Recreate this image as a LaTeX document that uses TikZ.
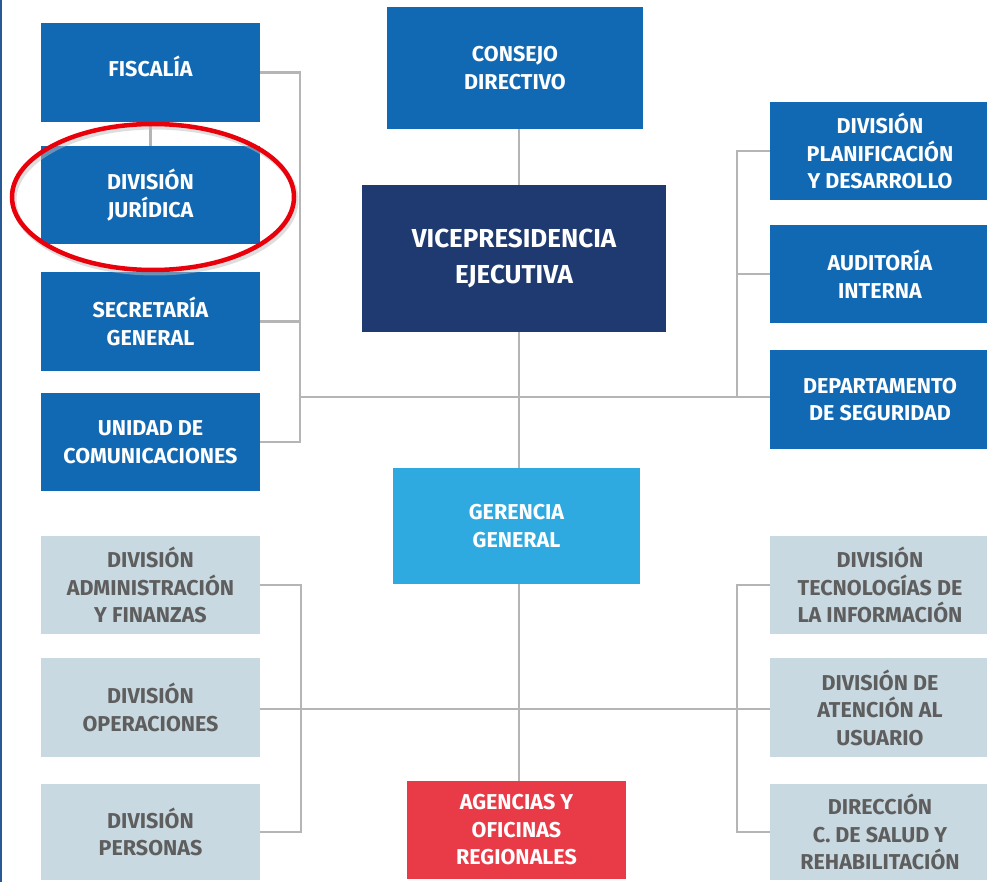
\documentclass[tikz,border=0pt]{standalone}
\usepackage{fontspec}
\setmainfont{Fira Sans}
\definecolor{bluebox}{HTML}{1168B3}
\definecolor{navybox}{HTML}{1F3A70}
\definecolor{skybox}{HTML}{2EAAE1}
\definecolor{redbox}{HTML}{E83A47}
\definecolor{greybox}{HTML}{C9D9E1}
\definecolor{greytext}{HTML}{5E5E5E}
\definecolor{linegrey}{HTML}{B5B5B5}
\definecolor{edgeblue}{HTML}{2A5A96}
\definecolor{ringred}{HTML}{E8000B}
\begin{document}
\begin{tikzpicture}[x=1pt,y=-1pt,
  basebox/.style={rectangle, inner sep=0pt, align=center, font=\bfseries\fontsize{21.5}{27.5}\selectfont},
  bluenode/.style={basebox, fill=bluebox, text=white},
  greynode/.style={basebox, fill=greybox, text=greytext},
  conn/.style={draw=linegrey, line width=2.6pt}]
\useasboundingbox (0,0) rectangle (987,882);
\fill[white] (0,0) rectangle (987,882);
% left border
\fill[edgeblue] (0,0) rectangle (2,882);
% left blue column
\node[bluenode, minimum width=219pt, minimum height=99pt] (fis) at (150.5,72.5) {\raisebox{12pt}{FISCALÍA}};
\node[bluenode, minimum width=219pt, minimum height=98pt] (jur) at (150.5,195) {DIVISIÓN\\JURÍDICA};
\node[bluenode, minimum width=219pt, minimum height=99pt] (sec) at (150.5,321.5) {SECRETARÍA\\GENERAL};
\node[bluenode, minimum width=219pt, minimum height=98pt] (uni) at (150.5,442) {UNIDAD DE\\COMUNICACIONES};
% centre column
\node[bluenode, minimum width=256pt, minimum height=122pt] (con) at (515,68) {CONSEJO\\DIRECTIVO};
\node[basebox, fill=navybox, text=white, font=\bfseries\fontsize{26}{36}\selectfont, minimum width=304pt, minimum height=147pt] (vic) at (514,258.5) {VICEPRESIDENCIA\\EJECUTIVA};
\node[basebox, fill=skybox, text=white, minimum width=247pt, minimum height=116pt] (ger) at (516.5,526) {GERENCIA\\GENERAL};
\node[basebox, fill=redbox, text=white, minimum width=219pt, minimum height=98pt] (age) at (516.5,830) {AGENCIAS Y\\OFICINAS\\REGIONALES};
% right blue column
\node[bluenode, minimum width=220pt, minimum height=98pt] (pla) at (880,151) {DIVISIÓN\\PLANIFICACIÓN\\Y DESARROLLO};
\node[bluenode, minimum width=220pt, minimum height=98pt] (aud) at (880,274) {AUDITORÍA\\INTERNA};
\node[bluenode, minimum width=220pt, minimum height=99pt] (dep) at (880,399.5) {DEPARTAMENTO\\DE SEGURIDAD};
% grey left column
\node[greynode, minimum width=219pt, minimum height=98pt] (adm) at (150.5,585) {DIVISIÓN\\ADMINISTRACIÓN\\Y FINANZAS};
\node[greynode, minimum width=219pt, minimum height=99pt] (ope) at (150.5,707.5) {DIVISIÓN\\OPERACIONES};
\node[greynode, minimum width=219pt, minimum height=96pt] (per) at (150.5,832) {DIVISIÓN\\PERSONAS};
% grey right column
\node[greynode, minimum width=220pt, minimum height=98pt] (tec) at (880,585) {DIVISIÓN\\TECNOLOGÍAS DE\\LA INFORMACIÓN};
\node[greynode, minimum width=220pt, minimum height=99pt] (ate) at (880,707.5) {DIVISIÓN DE\\ATENCIÓN AL\\USUARIO};
\node[greynode, minimum width=220pt, minimum height=96pt] (dir) at (880,832) {DIRECCIÓN\\C. DE SALUD Y\\REHABILITACIÓN};
% guide coordinates
\coordinate (mx) at (519,0);
\coordinate (lb) at (300,0);
\coordinate (rb) at (737,0);
\coordinate (lbb) at (301,0);
\coordinate (rbb) at (737,0);
\coordinate (hy) at (0,397);
\coordinate (hy2) at (0,709);
% connectors
\draw[conn] (con.south -| mx) -- (vic.north -| mx);
\draw[conn] (vic.south -| mx) -- (ger.north -| mx);
\draw[conn] (ger.south -| mx) -- (age.north -| mx);
\draw[conn] (fis.south) -- (jur.north);
\draw[conn] (fis.east) -- (fis.east -| lb) -- (uni.east -| lb) -- (uni.east);
\draw[conn] (sec.east) -- (sec.east -| lb);
\draw[conn] (lb |- hy) -- (dep.west |- hy);
\draw[conn] (pla.west) -- (pla.west -| rb) -- (rb |- hy);
\draw[conn] (aud.west) -- (aud.west -| rb);
\draw[conn] (adm.east) -- (adm.east -| lbb) -- (per.east -| lbb) -- (per.east);
\draw[conn] (ope.east |- hy2) -- (ate.west |- hy2);
\draw[conn] (tec.west) -- (tec.west -| rbb) -- (dir.west -| rbb) -- (dir.west);
% red ring
\draw[black!25, line width=5pt, opacity=0.5] (155,200) ellipse [x radius=141pt, y radius=73pt];
\draw[ringred, line width=4.5pt] (153,197) ellipse [x radius=141pt, y radius=73pt];
\end{tikzpicture}
\end{document}
